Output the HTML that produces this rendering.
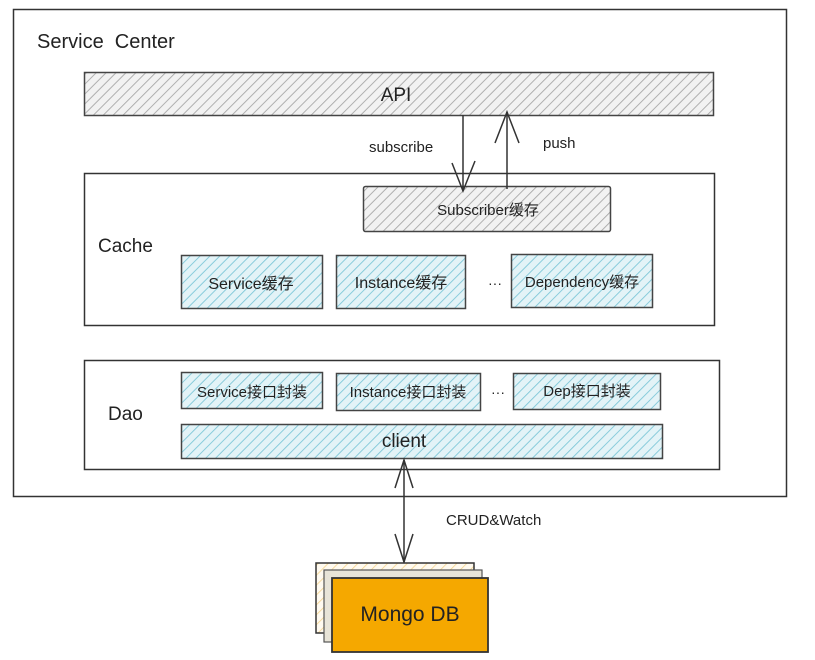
<!DOCTYPE html>
<html><head><meta charset="utf-8"><style>
html,body{margin:0;padding:0;background:#fff;}
svg{display:block;}
text{font-family:"Liberation Sans","Noto Sans CJK SC",sans-serif;fill:#222;}
</style></head><body>
<svg width="815" height="660" viewBox="0 0 815 660" xmlns="http://www.w3.org/2000/svg">
<defs>
<pattern id="hg" width="7" height="7" patternUnits="userSpaceOnUse" patternTransform="rotate(45)">
<rect width="7" height="7" fill="#f2f2f2"/><line x1="0" y1="0" x2="0" y2="7" stroke="#a8a8a8" stroke-width="1.8"/></pattern>
<pattern id="hb" width="7" height="7" patternUnits="userSpaceOnUse" patternTransform="rotate(45)">
<rect width="7" height="7" fill="#e3f3f7"/><line x1="0" y1="0" x2="0" y2="7" stroke="#7fc8d8" stroke-width="1.8"/></pattern>
<pattern id="ho" width="7" height="7" patternUnits="userSpaceOnUse" patternTransform="rotate(45)">
<rect width="7" height="7" fill="#fffaf0"/><line x1="0" y1="0" x2="0" y2="7" stroke="#f5d48a" stroke-width="1.6"/></pattern>
</defs>
<g fill="none" stroke="#333" stroke-width="1.5">
<rect x="13.5" y="9.5" width="773" height="487"/>
<rect x="84.5" y="173.5" width="630" height="152"/>
<rect x="84.5" y="360.5" width="635" height="109"/>
</g>
<text x="37" y="48" font-size="20">Service&#160; Center</text>
<rect x="84.5" y="72.5" width="629" height="43" fill="url(#hg)" stroke="#444" stroke-width="1.5"/>
<text x="396" y="101" font-size="19" text-anchor="middle">API</text>
<text x="98" y="252" font-size="19">Cache</text>
<text x="108" y="420" font-size="19">Dao</text>
<rect x="363.5" y="186.5" width="247" height="45" fill="url(#hg)" stroke="#444" stroke-width="1.5" rx="2"/>
<text x="488" y="215" font-size="15" text-anchor="middle" fill="#555">Subscriber缓存</text>
<g stroke="#444" stroke-width="1.5">
<rect x="181.5" y="255.5" width="141" height="53" fill="url(#hb)"/>
<rect x="336.5" y="255.5" width="129" height="53" fill="url(#hb)"/>
<rect x="511.5" y="254.5" width="141" height="53" fill="url(#hb)"/>
<rect x="181.5" y="372.5" width="141" height="36" fill="url(#hb)"/>
<rect x="336.5" y="373.5" width="144" height="37" fill="url(#hb)"/>
<rect x="513.5" y="373.5" width="147" height="36" fill="url(#hb)"/>
<rect x="181.5" y="424.5" width="481" height="34" fill="url(#hb)"/>
</g>
<text x="251" y="289" font-size="16" text-anchor="middle">Service缓存</text>
<text x="401" y="288" font-size="16" text-anchor="middle">Instance缓存</text>
<text x="495" y="288" font-size="14" text-anchor="middle">···</text>
<text x="582" y="287" font-size="15" text-anchor="middle">Dependency缓存</text>
<text x="252" y="397" font-size="15" text-anchor="middle">Service接口封装</text>
<text x="408" y="397" font-size="15" text-anchor="middle">Instance接口封装</text>
<text x="498" y="397" font-size="14" text-anchor="middle">···</text>
<text x="587" y="396" font-size="15" text-anchor="middle">Dep接口封装</text>
<text x="404" y="447" font-size="19" text-anchor="middle">client</text>
<g stroke="#333" stroke-width="1.5" fill="none">
<line x1="463" y1="115" x2="463" y2="191"/>
<polyline points="452,163 463,191 475,161"/>
<line x1="507" y1="189" x2="507" y2="112"/>
<polyline points="495,143 507,112 519,143"/>
<line x1="404" y1="460" x2="404" y2="562"/>
<polyline points="395,488 404,460 413,488"/>
<polyline points="395,534 404,562 413,534"/>
</g>
<text x="369" y="152" font-size="15">subscribe</text>
<text x="543" y="148" font-size="15">push</text>
<text x="446" y="525" font-size="15">CRUD&amp;Watch</text>
<rect x="316" y="563" width="158" height="70" fill="url(#ho)" stroke="#333" stroke-width="1.5"/>
<rect x="324" y="570" width="158" height="72" fill="#e8e4d8" stroke="#555" stroke-width="1.2"/>
<rect x="332" y="578" width="156" height="74" fill="#f5a800" stroke="#333" stroke-width="1.8"/>
<text x="410" y="621" font-size="21" text-anchor="middle">Mongo DB</text>
</svg>
</body></html>
